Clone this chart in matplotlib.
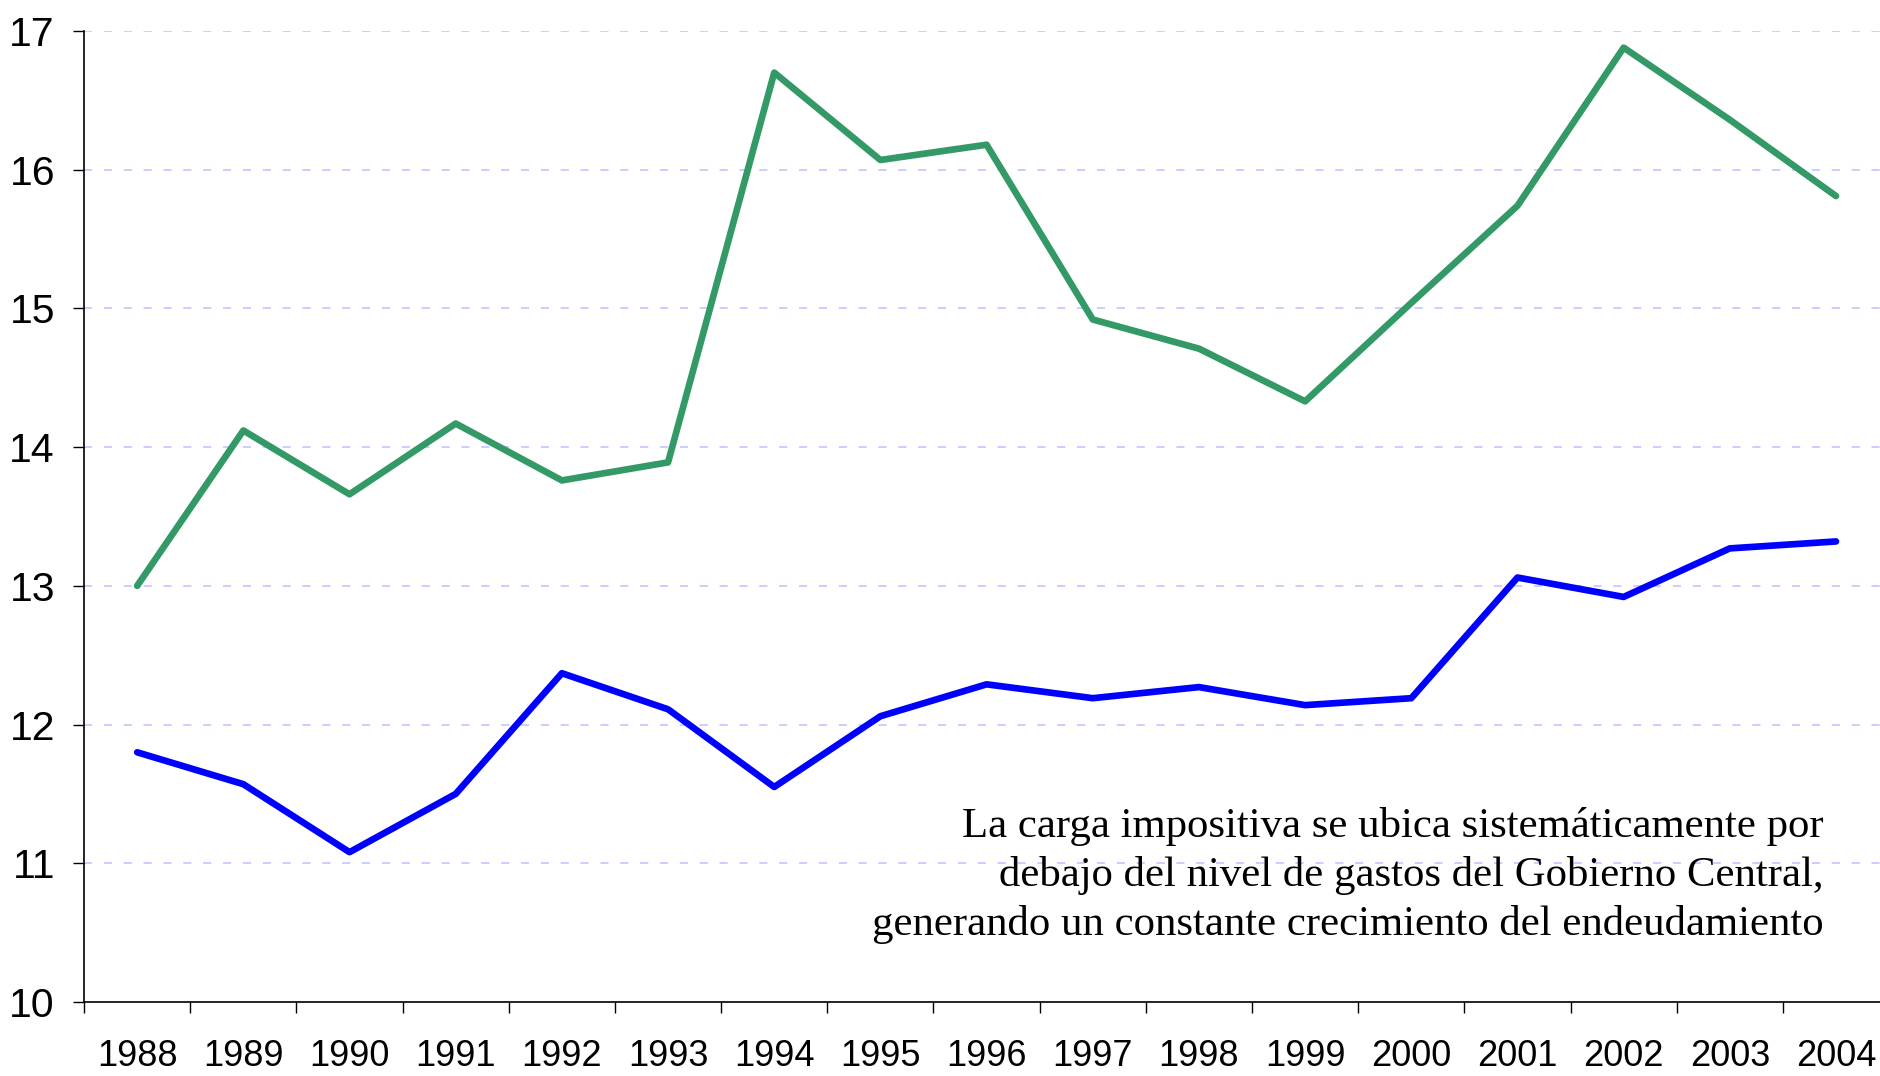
"""Carga impositiva vs gastos del Gobierno Central, 1988-2004."""
import matplotlib
matplotlib.use("Agg")
import matplotlib.pyplot as plt
from matplotlib.ticker import FixedLocator, NullFormatter

years = ["1988", "1989", "1990", "1991", "1992", "1993", "1994", "1995", "1996",
         "1997", "1998", "1999", "2000", "2001", "2002", "2003", "2004"]
gastos = [13.00, 14.12, 13.66, 14.17, 13.76, 13.89, 16.70, 16.07, 16.18,
          14.92, 14.71, 14.33, 15.04, 15.74, 16.88, 16.36, 15.81]
carga = [11.80, 11.57, 11.08, 11.50, 12.37, 12.11, 11.55, 12.06, 12.29,
         12.19, 12.27, 12.14, 12.19, 13.06, 12.92, 13.27, 13.32]
y_ticks = [10, 11, 12, 13, 14, 15, 16, 17]
note = ("La carga impositiva se ubica sistemáticamente por\n"
        "debajo del nivel de gastos del Gobierno Central,\n"
        "generando un constante crecimiento del endeudamiento")


def main():
    fig = plt.figure(figsize=(18.81, 10.76), dpi=100)
    ax = fig.add_axes([0.0447, 0.0688, 0.9596, 0.9024])
    x = list(range(len(years)))

    for v in y_ticks[1:]:
        ax.axhline(v, color="#c8c8ff", lw=1.3, ls=(0, (4.5, 6.5)), zorder=0)

    ax.plot(x, gastos, color="#339966", lw=4.8, solid_capstyle="round",
            solid_joinstyle="round", zorder=3)
    ax.plot(x, carga, color="#0000ff", lw=4.8, solid_capstyle="round",
            solid_joinstyle="round", zorder=3)

    ax.set_xlim(-0.5, len(years) - 0.5)
    ax.set_ylim(10, 17)
    ax.set_yticks(y_ticks)
    ax.set_yticklabels([str(v) for v in y_ticks], fontsize=29.5, family="Liberation Sans")

    # ticks at category boundaries, labels centred under points
    ax.xaxis.set_major_locator(FixedLocator([i - 0.5 for i in range(len(years) + 1)]))
    ax.xaxis.set_major_formatter(NullFormatter())
    ax.xaxis.set_minor_locator(FixedLocator(x))
    ax.set_xticklabels(years, minor=True, fontsize=26, family="Liberation Sans")
    ax.tick_params(axis="x", which="major", length=8, width=1, direction="out")
    ax.tick_params(axis="x", which="minor", length=0, pad=27)
    ax.tick_params(axis="y", length=8, width=1, direction="out", pad=13)

    for s in ("top", "right"):
        ax.spines[s].set_visible(False)
    for s in ("left", "bottom"):
        ax.spines[s].set_linewidth(1.2)

    ax.text(0.964, 0.130, note, transform=ax.transAxes, ha="right", va="center",
            multialignment="right", fontsize=30.8, family="Liberation Serif",
            linespacing=1.33)

    fig.savefig("out.png", dpi=100)
    plt.close(fig)


if __name__ == "__main__":
    main()
